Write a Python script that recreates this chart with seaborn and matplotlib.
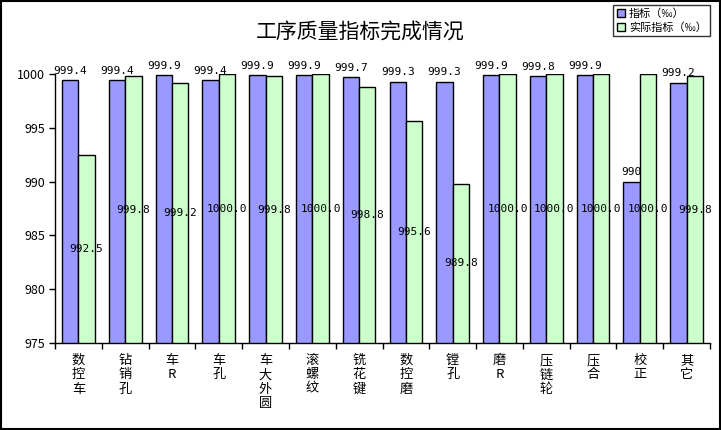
import pandas as pd
import seaborn as sns
import matplotlib.pyplot as plt
import matplotlib.patches as mpatches
import numpy as np

# chart data
categories = ['数控车', '钻销孔', '车R', '车孔', '车大外圆', '滚螺纹', '铣花键',
              '数控磨', '镗孔', '磨R', '压链轮', '压合', '校正', '其它']
target = [999.4, 999.4, 999.9, 999.4, 999.9, 999.9, 999.7,
          999.3, 999.3, 999.9, 999.8, 999.9, 990, 999.2]
actual = [992.5, 999.8, 999.2, 1000.0, 999.8, 1000.0, 998.8,
          995.6, 989.8, 1000.0, 1000.0, 1000.0, 1000.0, 999.8]
target_labels = ['999.4', '999.4', '999.9', '999.4', '999.9', '999.9', '999.7',
                 '999.3', '999.3', '999.9', '999.8', '999.9', '990', '999.2']
series_names = ['指标（‰）', '实际指标（‰）']
colors = ['#9999FF', '#CCFFCC']
y_ticks = [975, 980, 985, 990, 995, 1000]

sns.set_style('ticks')
plt.rcParams['font.family'] = ['Noto Sans CJK SC', 'DejaVu Sans']
plt.rcParams['text.color'] = 'black'
plt.rcParams['xtick.color'] = 'black'
plt.rcParams['ytick.color'] = 'black'

df = pd.DataFrame({
    'cat': categories * 2,
    'val': target + actual,
    'series': [series_names[0]] * len(categories) + [series_names[1]] * len(categories),
})

fig = plt.figure(figsize=(7.21, 4.30), dpi=100)
ax = fig.add_axes([55 / 721, 1 - 343 / 430, (710 - 55) / 721, (343 - 74) / 430])

sns.barplot(data=df, x='cat', y='val', hue='series', palette=colors, width=0.7,
            saturation=1, edgecolor='black', linewidth=1, ax=ax, legend=False)

ax.set_ylim(975, 1000)
ax.set_xlim(-0.5, len(categories) - 0.5)
ax.set_yticks(y_ticks)
ax.set_yticklabels([str(t) for t in y_ticks], fontsize=9)
ax.set_xlabel('')
ax.set_ylabel('')

# vertical stacked category labels
ax.set_xticks(range(len(categories)))
ax.set_xticklabels(['\n'.join(c) for c in categories], fontsize=9.5,
                   va='top', linespacing=1.12)
ax.tick_params(axis='x', which='major', length=0, pad=8)
ax.set_xticks(np.arange(-0.5, len(categories)), minor=True)
ax.tick_params(axis='x', which='minor', length=4, direction='out', color='black', width=1)
ax.tick_params(axis='y', length=4, direction='out', color='black', width=1, pad=3)

sns.despine(ax=ax)
for s in ['left', 'bottom']:
    ax.spines[s].set_color('black')
    ax.spines[s].set_linewidth(1)

# value labels
off = 0.7 / 4
for i in range(len(categories)):
    ax.annotate(target_labels[i], (i - off, target[i]), xytext=(0, 3),
                textcoords='offset points', ha='center', va='bottom',
                fontsize=8, family='DejaVu Sans Mono')
    ax.text(i + off, (975 + actual[i]) / 2, f'{actual[i]:.1f}', ha='center',
            va='center', fontsize=8, family='DejaVu Sans Mono')

fig.text(360 / 721, 1 - 32 / 430, '工序质量指标完成情况', ha='center', va='center',
         fontsize=15)

handles = [mpatches.Patch(facecolor=c, edgecolor='black', linewidth=1) for c in colors]
leg = fig.legend(handles, series_names, loc='upper right',
                 bbox_to_anchor=(710 / 721, 1 - 5 / 430), fontsize=8,
                 frameon=True, fancybox=False, edgecolor='black',
                 handlelength=0.8, handleheight=0.8, handletextpad=0.3,
                 borderpad=0.3, labelspacing=0.3, borderaxespad=0)
leg.get_frame().set_linewidth(1)

# outer border
fig.add_artist(mpatches.Rectangle((0.001, 0.002), 0.997, 0.996, transform=fig.transFigure,
                                  fill=False, edgecolor='black', linewidth=1.5))

fig.savefig('out.png', dpi=100)
